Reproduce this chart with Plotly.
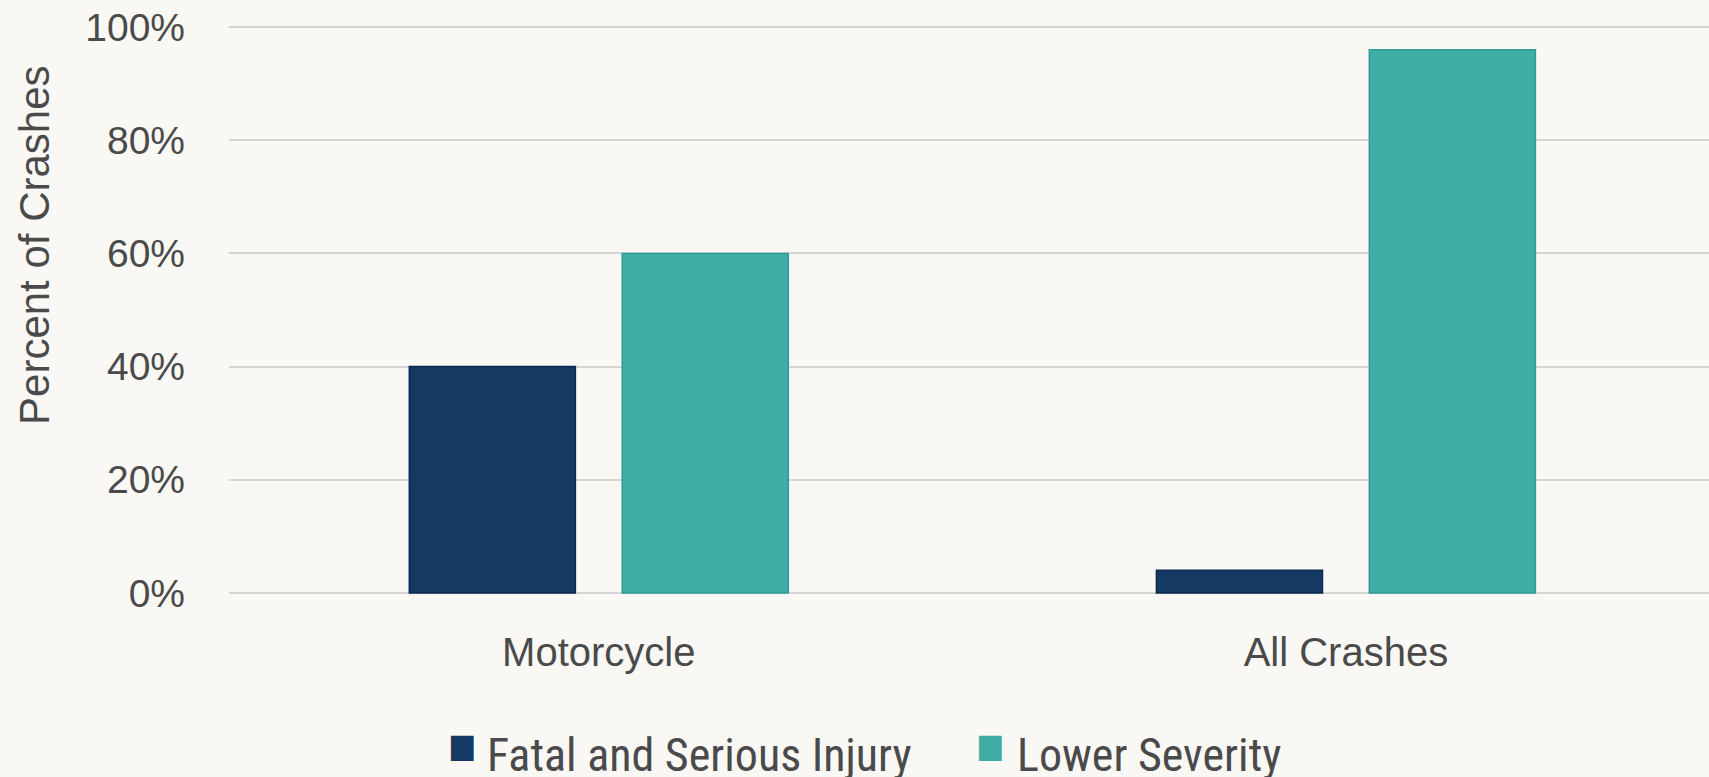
import plotly.graph_objects as go

categories = ['Motorcycle', 'All Crashes']
fatal_serious = [40, 4]
lower_severity = [60, 96]

series_names = ['Fatal and Serious Injury', 'Lower Severity']
fill_colors = ['#143A63', '#41ADA7']
edge_colors = ['#0B2A50', '#2E9C94']

y_ticks = [0, 20, 40, 60, 80, 100]
y_ticktext = [f'{v}%' for v in y_ticks]

bg = '#F9F8F4'
text_col = '#4A4A4A'

fig = go.Figure()
for name, vals, fc, ec in zip(series_names, [fatal_serious, lower_severity], fill_colors, edge_colors):
    fig.add_trace(go.Bar(x=categories, y=vals, name=name, showlegend=False,
                         marker=dict(color=fc, line=dict(color=ec, width=1.5))))

fig.update_layout(
    width=1709, height=777,
    paper_bgcolor=bg, plot_bgcolor=bg,
    margin=dict(l=229, r=0, t=24, b=181),
    barmode='group', bargap=0.43, bargroupgap=0.22,
    font=dict(family='Liberation Sans, Arial, sans-serif', color=text_col),
)

fig.update_xaxes(type='category', range=[-0.495, 1.486], showgrid=False, showline=False,
                 zeroline=False, tickfont=dict(size=40), ticklabelstandoff=29)
# pad the range a little so the 0% and 100% gridlines are drawn
fig.update_yaxes(range=[-0.53, 100.53], tickvals=y_ticks, ticktext=y_ticktext,
                 showgrid=True, gridcolor='#D6D6D6', gridwidth=2, zeroline=False, showline=False,
                 tickfont=dict(size=39), ticklabelstandoff=43)

# y title sits above the plot's middle in the original, so place it by hand
fig.add_annotation(text='Percent of Crashes', textangle=-90, x=-0.1318, y=0.6136,
                   xref='paper', yref='paper', xanchor='center', yanchor='middle',
                   showarrow=False, font=dict(size=42, color=text_col))

# legend drawn as text with square glyphs
legend_font = 'Liberation Sans Narrow, Roboto Condensed, DejaVu Sans Condensed, Arial Narrow, sans-serif'
square_x = [0.1466, 0.5034]
label_x = [0.173, 0.5311]
for name, fc, sx, lx in zip(series_names, fill_colors, square_x, label_x):
    fig.add_annotation(text='■', x=sx, y=-0.262, xref='paper', yref='paper',
                       xanchor='left', yanchor='middle', showarrow=False,
                       font=dict(family=legend_font, size=33, color=fc))
    fig.add_annotation(text=name, x=lx, y=-0.278, xref='paper', yref='paper',
                       xanchor='left', yanchor='middle', showarrow=False,
                       font=dict(family=legend_font, size=46, color=text_col))

fig.write_html('out.html', config={'displayModeBar': False},
               post_script="document.body.style.margin='0';")
